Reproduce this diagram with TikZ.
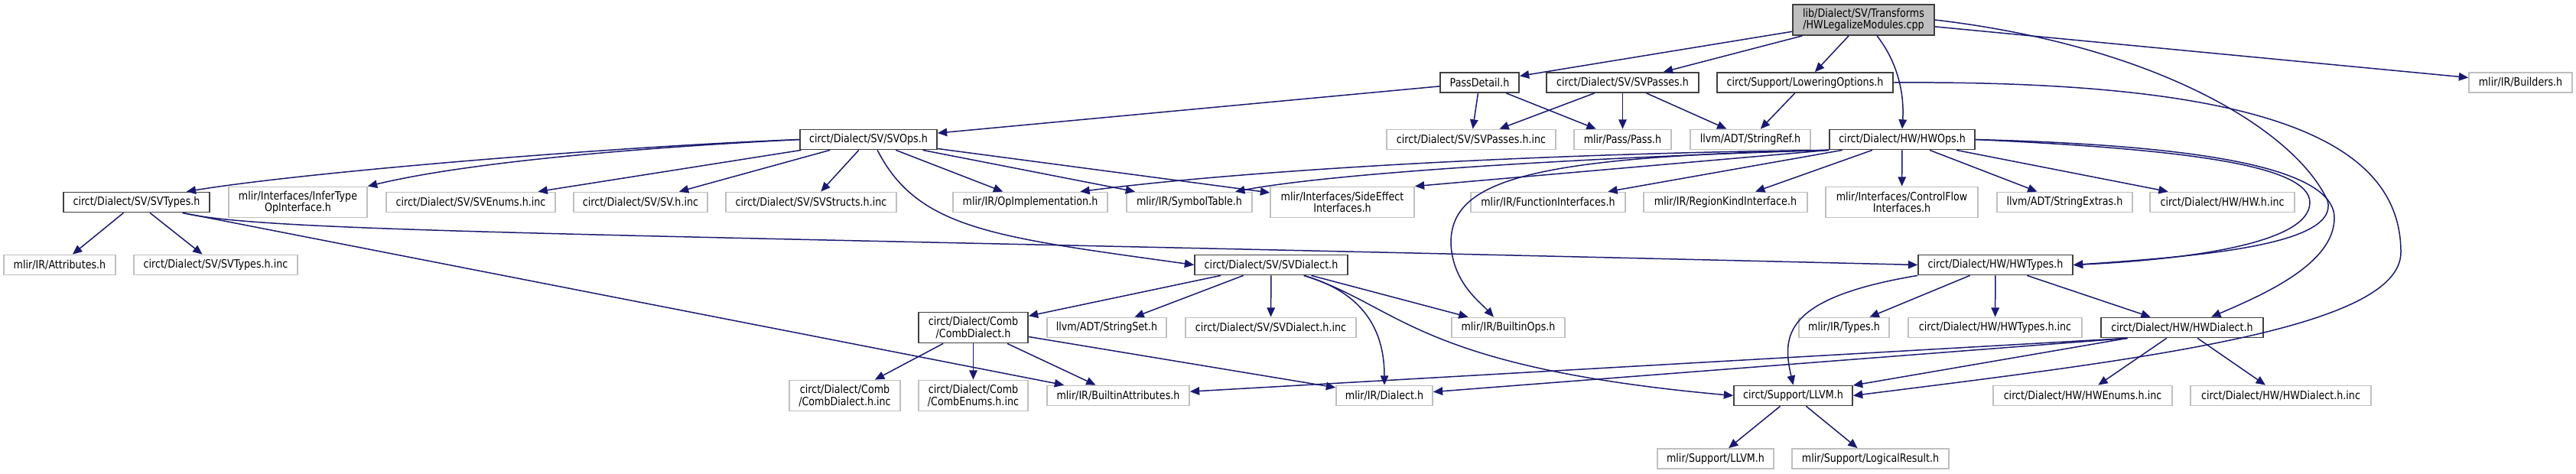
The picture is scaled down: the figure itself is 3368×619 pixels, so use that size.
\documentclass[tikz,border=0pt]{standalone}
\usepackage{fontspec}
\setsansfont{DejaVu Sans}[FakeStretch=0.85]
\usepackage{xcolor}
\usepackage{tikz}
\usetikzlibrary{arrows.meta}
\definecolor{edgecol}{RGB}{25, 25, 112}
\definecolor{extborder}{RGB}{191, 191, 191}
\definecolor{rootfill}{RGB}{191, 191, 191}
\definecolor{docborder}{RGB}{64, 64, 64}
\tikzset{
  font=\sffamily\fontsize{8.5pt}{8.6pt}\selectfont,
  fileblock/.style={
    rectangle, line width=1pt, fill=white,
    minimum height=0.52cm, inner sep=1.5pt, align=center
  },
  docblock/.style={fileblock, draw=docborder},
  extblock/.style={fileblock, draw=extborder},
  rootblock/.style={fileblock, draw=docborder, fill=rootfill, minimum height=0.8cm},
  twoline/.style={minimum height=0.8cm},
  inclline/.style={
    draw=edgecol, line width=0.85pt, -{Triangle[length=7pt, width=6pt]}
  }
}

\begin{document}
\begin{tikzpicture}[x=0.02cm, y=-0.02cm]

  \useasboundingbox (0,0) rectangle (3368,619);

  % Source file
  \node[rootblock, minimum width=3.70cm] (root) at (2436.5,26) {lib/Dialect/SV/Transforms\\/HWLegalizeModules.cpp};

  % Direct includes
  \node[docblock, minimum width=2.06cm] (passdetail) at (1934.5,108) {PassDetail.h};
  \node[docblock, minimum width=3.98cm] (svpasses) at (2121.5,108) {circt/Dialect/SV/SVPasses.h};
  \node[docblock, minimum width=4.60cm] (loweropts) at (2360,108) {circt/Support/LoweringOptions.h};
  \node[extblock, minimum width=2.70cm] (builders) at (3295.5,108) {mlir/IR/Builders.h};

  % Second level
  \node[docblock, minimum width=3.58cm] (svops) at (1135.5,182.5) {circt/Dialect/SV/SVOps.h};
  \node[extblock, minimum width=4.42cm] (svpassesinc) at (1923.5,182.5) {circt/Dialect/SV/SVPasses.h.inc};
  \node[extblock, minimum width=2.54cm] (passh) at (2121.5,182.5) {mlir/Pass/Pass.h};
  \node[extblock, minimum width=3.14cm] (stringref) at (2288.5,182.5) {llvm/ADT/StringRef.h};
  \node[docblock, minimum width=3.80cm] (hwops) at (2487,182.5) {circt/Dialect/HW/HWOps.h};

  % Third level
  \node[docblock, minimum width=3.82cm] (svtypes) at (178.5,264.5) {circt/Dialect/SV/SVTypes.h};
  \node[extblock, twoline, minimum width=3.62cm] (infertype) at (389.5,264.5) {mlir/Interfaces/InferType\\OpInterface.h};
  \node[extblock, minimum width=4.42cm] (svenums) at (615.5,264.5) {circt/Dialect/SV/SVEnums.h.inc};
  \node[extblock, minimum width=3.50cm] (svhinc) at (837.5,264.5) {circt/Dialect/SV/SV.h.inc};
  \node[extblock, minimum width=4.46cm] (svstructs) at (1060.5,264.5) {circt/Dialect/SV/SVStructs.h.inc};
  \node[extblock, minimum width=4.04cm] (opimpl) at (1347,264.5) {mlir/IR/OpImplementation.h};
  \node[extblock, minimum width=3.28cm] (symtable) at (1555,264.5) {mlir/IR/SymbolTable.h};
  \node[extblock, twoline, minimum width=3.76cm] (sideeffect) at (1755,264.5) {mlir/Interfaces/SideEffect\\Interfaces.h};
  \node[extblock, minimum width=4.04cm] (funcintf) at (2024,264.5) {mlir/IR/FunctionInterfaces.h};
  \node[extblock, minimum width=4.28cm] (regionkind) at (2256,264.5) {mlir/IR/RegionKindInterface.h};
  \node[extblock, twoline, minimum width=3.98cm] (ctrlflow) at (2486.5,264.5) {mlir/Interfaces/ControlFlow\\Interfaces.h};
  \node[extblock, minimum width=3.54cm] (strextras) at (2699.5,264.5) {llvm/ADT/StringExtras.h};
  \node[extblock, minimum width=3.78cm] (hwhinc) at (2905.5,264.5) {circt/Dialect/HW/HW.h.inc};

  % Fourth level
  \node[extblock, minimum width=2.92cm] (attributes) at (78,346.5) {mlir/IR/Attributes.h};
  \node[extblock, minimum width=4.28cm] (svtypesinc) at (282,346.5) {circt/Dialect/SV/SVTypes.h.inc};
  \node[docblock, minimum width=4.00cm] (svdialect) at (1662,346.5) {circt/Dialect/SV/SVDialect.h};
  \node[docblock, minimum width=4.04cm] (hwtypes) at (2609,346.5) {circt/Dialect/HW/HWTypes.h};

  % Fifth level
  \node[docblock, twoline, minimum width=2.86cm] (combdialect) at (1272.5,428.5) {circt/Dialect/Comb\\/CombDialect.h};
  \node[extblock, minimum width=3.12cm] (stringset) at (1447,428.5) {llvm/ADT/StringSet.h};
  \node[extblock, minimum width=4.46cm] (svdialectinc) at (1661.5,428.5) {circt/Dialect/SV/SVDialect.h.inc};
  \node[extblock, minimum width=2.96cm] (builtinops) at (1972,428.5) {mlir/IR/BuiltinOps.h};
  \node[extblock, minimum width=2.36cm] (irtypes) at (2411,428.5) {mlir/IR/Types.h};
  \node[extblock, minimum width=4.54cm] (hwtypesinc) at (2608.5,428.5) {circt/Dialect/HW/HWTypes.h.inc};
  \node[docblock, minimum width=4.24cm] (hwdialect) at (2853,428.5) {circt/Dialect/HW/HWDialect.h};

  % Sixth level
  \node[extblock, twoline, minimum width=2.90cm] (combdialectinc) at (1104.5,517.5) {circt/Dialect/Comb\\/CombDialect.h.inc};
  \node[extblock, twoline, minimum width=2.86cm] (combenumsinc) at (1272.5,517.5) {circt/Dialect/Comb\\/CombEnums.h.inc};
  \node[extblock, minimum width=3.72cm] (builtinattrs) at (1462,517.5) {mlir/IR/BuiltinAttributes.h};
  \node[extblock, minimum width=2.52cm] (irdialect) at (1810,517.5) {mlir/IR/Dialect.h};
  \node[docblock, minimum width=3.10cm] (circtllvm) at (2344.5,517.5) {circt/Support/LLVM.h};
  \node[extblock, minimum width=4.68cm] (hwenumsinc) at (2723,517.5) {circt/Dialect/HW/HWEnums.h.inc};
  \node[extblock, minimum width=4.72cm] (hwdialectinc) at (2982,517.5) {circt/Dialect/HW/HWDialect.h.inc};

  % Bottom level
  \node[extblock, minimum width=3.04cm] (mlirllvm) at (2243,600) {mlir/Support/LLVM.h};
  \node[extblock, minimum width=4.10cm] (logicalresult) at (2445.5,600) {mlir/Support/LogicalResult.h};

  % Includes of the source file
  \draw[inclline] (root) -- (passdetail);
  \draw[inclline] (root) -- (svpasses);
  \draw[inclline] (root) -- (loweropts);
  \draw[inclline] (root) -- (builders);
  \draw[inclline] (root.-50) .. controls (2480,80) and (2490,120) .. (hwops.north);
  \draw[inclline] (root.east) .. controls (2820,60) and (3000,170) .. (3043,262)
    .. controls (3060,320) and (2880,335) .. (hwtypes.east);

  % PassDetail.h, SVPasses.h, LoweringOptions.h
  \draw[inclline] (passdetail) -- (svops);
  \draw[inclline] (passdetail) -- (svpassesinc);
  \draw[inclline] (passdetail) -- (passh);
  \draw[inclline] (svpasses) -- (svpassesinc);
  \draw[inclline] (svpasses) -- (passh);
  \draw[inclline] (svpasses) -- (stringref);
  \draw[inclline] (loweropts) -- (stringref);
  \draw[inclline] (loweropts.east) .. controls (2950,105) and (3139,180) .. (3139,330)
    .. controls (3139,430) and (2800,470) .. (circtllvm.east);

  % SVOps.h
  \draw[inclline] (svops.west) .. controls (800,192) and (400,225) .. (svtypes.12);
  \draw[inclline] (svops.west) .. controls (800,195) and (600,215) .. (infertype.north east);
  \draw[inclline] (svops) -- (svenums);
  \draw[inclline] (svops) -- (svhinc);
  \draw[inclline] (svops) -- (svstructs);
  \draw[inclline] (svops) -- (opimpl);
  \draw[inclline] (svops) -- (symtable);
  \draw[inclline] (svops) -- (sideeffect);
  \draw[inclline] (svops.-50) .. controls (1200,300) and (1300,310) .. (svdialect.west);

  % HWOps.h
  \draw[inclline] (hwops.south west) .. controls (2050,200) and (1650,220) .. (opimpl.12);
  \draw[inclline] (hwops.south west) .. controls (2100,205) and (1750,225) .. (symtable.13);
  \draw[inclline] (hwops.south west) -- (sideeffect.north east);
  \draw[inclline] (hwops.south west) .. controls (2000,205) and (1895,235) .. (1897,320)
    .. controls (1900,370) and (1935,395) .. (builtinops.144);
  \draw[inclline] (hwops) -- (funcintf);
  \draw[inclline] (hwops) -- (regionkind);
  \draw[inclline] (hwops) -- (ctrlflow);
  \draw[inclline] (hwops) -- (strextras);
  \draw[inclline] (hwops) -- (hwhinc);
  \draw[inclline] (hwops.east) .. controls (2850,195) and (3020,215) .. (3020,265)
    .. controls (3020,320) and (2850,340) .. (hwtypes.east);
  \draw[inclline] (hwops.east) .. controls (2880,190) and (3052,220) .. (3052,285)
    .. controls (3052,345) and (2960,385) .. (hwdialect.20);

  % SVTypes.h
  \draw[inclline] (svtypes) -- (attributes);
  \draw[inclline] (svtypes) -- (svtypesinc);
  \draw[inclline] (svtypes.-13) -- (builtinattrs);
  \draw[inclline] (svtypes.-13) .. controls (350,305) and (800,305) .. (hwtypes.west);

  % SVDialect.h
  \draw[inclline] (svdialect) -- (combdialect);
  \draw[inclline] (svdialect) -- (stringset);
  \draw[inclline] (svdialect) -- (svdialectinc);
  \draw[inclline] (svdialect) -- (builtinops);
  \draw[inclline] (svdialect.-18) .. controls (1790,385) and (1810,440) .. (irdialect.north);
  \draw[inclline] (svdialect.-18) .. controls (1830,400) and (1850,480) .. (circtllvm.west);

  % CombDialect.h
  \draw[inclline] (combdialect) -- (combdialectinc);
  \draw[inclline] (combdialect) -- (combenumsinc);
  \draw[inclline] (combdialect) -- (builtinattrs);
  \draw[inclline] (combdialect) -- (irdialect);

  % HWTypes.h and HWDialect.h
  \draw[inclline] (hwtypes.south west) .. controls (2330,390) and (2330,440) .. (circtllvm.north);
  \draw[inclline] (hwtypes) -- (irtypes);
  \draw[inclline] (hwtypes) -- (hwtypesinc);
  \draw[inclline] (hwtypes) -- (hwdialect);
  \draw[inclline] (hwdialect.-169) -- (builtinattrs);
  \draw[inclline] (hwdialect.-169) -- (irdialect);
  \draw[inclline] (hwdialect.-169) -- (circtllvm);
  \draw[inclline] (hwdialect) -- (hwenumsinc);
  \draw[inclline] (hwdialect) -- (hwdialectinc);

  % circt/Support/LLVM.h
  \draw[inclline] (circtllvm) -- (mlirllvm);
  \draw[inclline] (circtllvm) -- (logicalresult);

\end{tikzpicture}
\end{document}
